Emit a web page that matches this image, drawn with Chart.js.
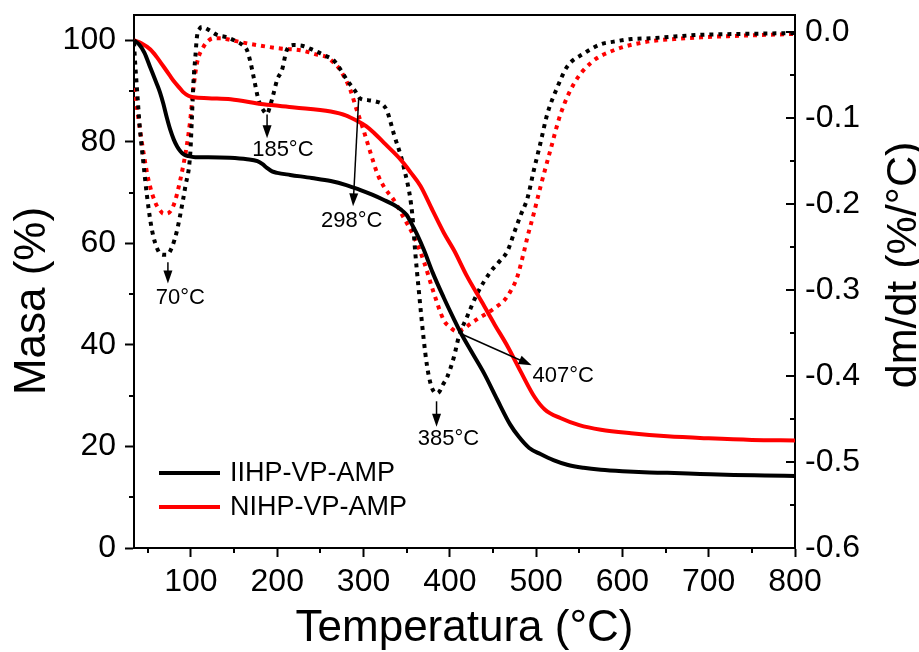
<!DOCTYPE html>
<html>
<head>
<meta charset="utf-8">
<script src="https://cdn.jsdelivr.net/npm/chart.js@4/dist/chart.umd.min.js"></script>
<style>
  html, body { margin: 0; padding: 0; background: #fff; }
  #wrap { width: 919px; height: 652px; position: relative; }
</style>
</head>
<body>
<div id="wrap"><canvas id="tgaChart"></canvas></div>
<script>
// ---- Data ----
// Mass loss curves, left axis (%)
const iihpMassT = [34, 40, 46, 53, 60, 64, 68, 72, 76, 80, 84, 88, 92, 97, 105, 120, 145, 165, 177, 183, 188, 194, 200, 215, 240, 262, 280, 295, 310, 323, 335, 343, 350, 355, 362, 370, 380, 393, 405, 412, 425, 440, 455, 470, 480, 492, 505, 520, 536, 555, 575, 600, 625, 652, 690, 729, 765, 800];
const iihpMass = [100, 99.2, 97.6, 94.6, 91.6, 89.8, 87.5, 84.8, 82.4, 80.5, 79.1, 78.1, 77.5, 77.2, 77.0, 77.0, 76.9, 76.6, 76.2, 75.6, 74.9, 74.2, 73.9, 73.5, 72.9, 72.3, 71.5, 70.6, 69.6, 68.6, 67.6, 66.7, 65.6, 64.1, 61.8, 58.7, 54.3, 49.3, 45.0, 42.6, 38.7, 34.3, 29.2, 24.3, 21.9, 19.7, 18.5, 17.3, 16.4, 15.8, 15.4, 15.1, 14.9, 14.8, 14.6, 14.4, 14.3, 14.2];

const nihpMassT = [34, 42, 53, 60, 68, 75, 80, 86, 91, 97, 103, 120, 146, 184, 220, 262, 280, 293, 303, 312, 325, 343, 355, 366, 380, 393, 405, 420, 437, 452, 467, 482, 498, 510, 528, 550, 575, 610, 652, 700, 750, 800];
const nihpMass = [100, 99.5, 98.2, 96.8, 94.9, 93.2, 92.0, 90.8, 89.8, 89.1, 88.8, 88.6, 88.4, 87.4, 86.8, 86.0, 85.2, 84.1, 83.1, 81.8, 79.6, 76.5, 73.9, 71.3, 66.5, 62.1, 58.6, 53.5, 48.5, 44.0, 39.7, 34.8, 29.8, 27.3, 25.6, 24.2, 23.3, 22.6, 22.0, 21.6, 21.3, 21.2];

// Derivative curves, right axis (%/°C)
const iihpDtgT = [34, 35.3, 37.3, 41, 45, 49, 54.8, 62.4, 68, 72, 78, 84, 89, 93.4, 99.2, 101, 103, 105, 107, 110, 113, 120, 130, 142, 153, 160, 165, 169, 172.6, 178.4, 184, 188, 192, 195.8, 200, 205.5, 211, 219, 230, 242, 255, 265.6, 273, 281, 290, 296, 305, 315.8, 322, 327, 335, 346.6, 356.4, 360, 364, 369.8, 373.7, 378, 381.5, 385, 388, 392, 397, 404.7, 410.5, 420, 431.8, 447, 458, 466.6, 475, 482, 490, 497, 505, 513, 524.6, 536, 555, 575, 590, 610, 633, 660, 691, 740, 800];
const iihpDtg = [-0.012, -0.035, -0.064, -0.114, -0.153, -0.19, -0.23, -0.255, -0.259, -0.259, -0.25, -0.23, -0.205, -0.18, -0.141, -0.102, -0.056, -0.03, -0.005, 0.004, 0.006, 0.003, -0.003, -0.006, -0.011, -0.015, -0.021, -0.035, -0.052, -0.079, -0.091, -0.095, -0.085, -0.071, -0.055, -0.044, -0.021, -0.015, -0.016, -0.021, -0.027, -0.033, -0.043, -0.056, -0.068, -0.077, -0.079, -0.081, -0.084, -0.091, -0.118, -0.157, -0.211, -0.257, -0.3, -0.358, -0.389, -0.41, -0.418, -0.42, -0.418, -0.41, -0.401, -0.378, -0.354, -0.331, -0.304, -0.279, -0.266, -0.255, -0.232, -0.213, -0.193, -0.162, -0.129, -0.095, -0.064, -0.040, -0.025, -0.014, -0.011, -0.008, -0.007, -0.005, -0.003, -0.002, -0.001];

const nihpDtgT = [34, 37, 41, 45, 50.8, 58.6, 64, 68, 72, 80, 87.6, 95, 99.2, 103, 107, 114.6, 120, 126, 135, 145.6, 160, 176.6, 203.6, 226.8, 246, 257.7, 265, 273, 284.6, 292, 300, 308, 315.8, 325, 335, 345, 358, 370, 381, 393, 400, 408, 416, 424, 433, 443, 453, 463, 470, 478, 486, 490, 497, 505, 516.6, 528.4, 543.8, 563, 590, 629, 660, 691, 740, 800];
const nihpDtg = [-0.065, -0.085, -0.114, -0.14, -0.172, -0.198, -0.207, -0.211, -0.211, -0.201, -0.172, -0.133, -0.102, -0.064, -0.036, -0.017, -0.01, -0.007, -0.007, -0.009, -0.012, -0.015, -0.019, -0.021, -0.026, -0.029, -0.035, -0.044, -0.067, -0.09, -0.114, -0.14, -0.164, -0.182, -0.195, -0.213, -0.237, -0.267, -0.302, -0.335, -0.343, -0.348, -0.345, -0.339, -0.333, -0.327, -0.32, -0.312, -0.302, -0.285, -0.255, -0.238, -0.212, -0.18, -0.137, -0.095, -0.06, -0.036, -0.021, -0.011, -0.008, -0.006, -0.004, -0.002];

// Axis ticks
const xTicks = [100, 200, 300, 400, 500, 600, 700, 800];
const xMinorTicks = [50, 150, 250, 350, 450, 550, 650, 750];
const massTicks = [0, 20, 40, 60, 80, 100];
const massMinorTicks = [10, 30, 50, 70, 90];
const dtgTicks = [-0.6, -0.5, -0.4, -0.3, -0.2, -0.1, 0.0];
const dtgMinorTicks = [-0.55, -0.45, -0.35, -0.25, -0.15, -0.05];

// Peak annotations: arrow from -> to, label at (temperature, mass %)
const peakLabels = ['70°C', '185°C', '298°C', '385°C', '407°C'];
const peakArrowFrom = [[73.3, 56.3], [188.2, 85.4], [294.4, 88.7], [384.6, 28.9], [411.6, 42.3]];
const peakArrowTo = [[73.3, 52.1], [188.2, 80.7], [287.9, 67.3], [384.6, 23.9], [494.8, 36.0]];
const peakTextAt = [[87.6, 49.3], [206.5, 78.5], [286.3, 64.4], [398.5, 21.5], [531.3, 33.8]];

const FONT = "'Liberation Sans', Arial, sans-serif";

const toPoints = (xs, ys) => xs.map((x, i) => ({ x: x, y: ys[i] }));

// fixed box sizes so the plot area sits where the figure has it
const fixBox = size => s => {
    if (s.isHorizontal()) s.height = size; else s.width = size;
    s.paddingTop = 0; s.paddingBottom = 0; s.paddingLeft = 0; s.paddingRight = 0;
};

// ---- Plugins ----
// minor ticks, inward right ticks and top frame line
const frameTicks = {
    id: 'frameTicks',
    afterDraw(chart) {
        const ctx = chart.ctx;
        const a = chart.chartArea;
        const sx = chart.scales.x, sy = chart.scales.y, sy2 = chart.scales.y2;
        ctx.save();
        ctx.strokeStyle = '#000';
        ctx.lineWidth = 2;
        ctx.beginPath();
        ctx.moveTo(a.left - 1, a.top);
        ctx.lineTo(a.right + 1, a.top);
        // minor x ticks (outward)
        xMinorTicks.forEach(v => {
            const px = Math.round(sx.getPixelForValue(v));
            ctx.moveTo(px, a.bottom);
            ctx.lineTo(px, a.bottom + 5);
        });
        // minor left ticks (outward)
        massMinorTicks.forEach(v => {
            const py = Math.round(sy.getPixelForValue(v));
            ctx.moveTo(a.left, py);
            ctx.lineTo(a.left - 5, py);
        });
        // right axis ticks point into the plot
        dtgTicks.forEach(v => {
            const py = Math.round(sy2.getPixelForValue(v));
            ctx.moveTo(a.right, py);
            ctx.lineTo(a.right - 9, py);
        });
        dtgMinorTicks.forEach(v => {
            const py = Math.round(sy2.getPixelForValue(v));
            ctx.moveTo(a.right, py);
            ctx.lineTo(a.right - 5, py);
        });
        ctx.stroke();
        ctx.restore();
    }
};

// arrows + temperature labels
const peakNotes = {
    id: 'peakNotes',
    afterDatasetsDraw(chart) {
        const ctx = chart.ctx;
        const sx = chart.scales.x, sy = chart.scales.y;
        ctx.save();
        ctx.strokeStyle = '#000';
        ctx.fillStyle = '#000';
        ctx.lineWidth = 1.5;
        peakLabels.forEach((txt, i) => {
            const x1 = sx.getPixelForValue(peakArrowFrom[i][0]);
            const y1 = sy.getPixelForValue(peakArrowFrom[i][1]);
            const x2 = sx.getPixelForValue(peakArrowTo[i][0]);
            const y2 = sy.getPixelForValue(peakArrowTo[i][1]);
            const ang = Math.atan2(y2 - y1, x2 - x1);
            const headLen = 13, headW = 4.5;
            ctx.beginPath();
            ctx.moveTo(x1, y1);
            ctx.lineTo(x2 - Math.cos(ang) * headLen * 0.8, y2 - Math.sin(ang) * headLen * 0.8);
            ctx.stroke();
            ctx.beginPath();
            ctx.moveTo(x2, y2);
            ctx.lineTo(x2 - Math.cos(ang) * headLen - Math.sin(ang) * headW, y2 - Math.sin(ang) * headLen + Math.cos(ang) * headW);
            ctx.lineTo(x2 - Math.cos(ang) * headLen + Math.sin(ang) * headW, y2 - Math.sin(ang) * headLen - Math.cos(ang) * headW);
            ctx.closePath();
            ctx.fill();

            ctx.font = '22px ' + FONT;
            ctx.textAlign = 'center';
            ctx.textBaseline = 'middle';
            ctx.fillText(txt, sx.getPixelForValue(peakTextAt[i][0]), sy.getPixelForValue(peakTextAt[i][1]));
        });
        ctx.restore();
    }
};

// axis titles + legend inside the plot
const titlesLegend = {
    id: 'titlesLegend',
    afterDraw(chart) {
        const ctx = chart.ctx;
        const a = chart.chartArea;
        ctx.save();
        ctx.fillStyle = '#000';
        ctx.font = '44px ' + FONT;
        ctx.textAlign = 'center';
        ctx.textBaseline = 'alphabetic';
        ctx.fillText('Temperatura (°C)', (a.left + a.right) / 2, 641);

        ctx.save();
        ctx.translate(45, 301);
        ctx.rotate(-Math.PI / 2);
        ctx.fillText('Masa (%)', 0, 0);
        ctx.restore();

        ctx.save();
        ctx.translate(916, 265);
        ctx.rotate(-Math.PI / 2);
        ctx.font = '43px ' + FONT;
        ctx.fillText('dm/dt (%/°C)', 0, 0);
        ctx.restore();

        // legend: only the solid (mass) curves
        ctx.font = '27px ' + FONT;
        ctx.textAlign = 'left';
        ctx.textBaseline = 'middle';
        const legendItems = chart.data.datasets.filter(ds => !ds.borderDash);
        legendItems.forEach((ds, i) => {
            const y = 473 + i * 34;
            ctx.strokeStyle = ds.borderColor;
            ctx.lineWidth = 4;
            ctx.beginPath();
            ctx.moveTo(159, y);
            ctx.lineTo(220, y);
            ctx.stroke();
            ctx.fillText(ds.label, 230, y + 1);
        });
        ctx.restore();
    }
};

// ---- Chart ----
const tickFont = { family: FONT, size: 32 };

new Chart(document.getElementById('tgaChart').getContext('2d'), {
    type: 'line',
    data: {
        datasets: [
            {
                label: 'IIHP-VP-AMP',
                data: toPoints(iihpMassT, iihpMass),
                borderColor: '#000000',
                borderWidth: 4,
                yAxisID: 'y'
            },
            {
                label: 'NIHP-VP-AMP',
                data: toPoints(nihpMassT, nihpMass),
                borderColor: '#ff0000',
                borderWidth: 4,
                yAxisID: 'y'
            },
            {
                label: 'IIHP-VP-AMP dm/dt',
                data: toPoints(iihpDtgT, iihpDtg),
                borderColor: '#000000',
                borderWidth: 4,
                borderDash: [4, 5],
                yAxisID: 'y2'
            },
            {
                label: 'NIHP-VP-AMP dm/dt',
                data: toPoints(nihpDtgT, nihpDtg),
                borderColor: '#ff0000',
                borderWidth: 4,
                borderDash: [4, 5],
                yAxisID: 'y2'
            }
        ]
    },
    options: {
        responsive: true,
        maintainAspectRatio: false,
        animation: false,
        layout: { padding: { top: 15, left: 0, right: 0, bottom: 0 } },
        elements: {
            point: { radius: 0 },
            line: { cubicInterpolationMode: 'monotone', fill: false }
        },
        plugins: {
            legend: { display: false },
            tooltip: { enabled: false }
        },
        scales: {
            x: {
                type: 'linear',
                min: 34,
                max: 800,
                afterBuildTicks: s => { s.ticks = xTicks.map(v => ({ value: v })); },
                afterFit: fixBox(104),
                grid: { drawOnChartArea: false, tickLength: 9, tickWidth: 2, tickColor: '#000' },
                border: { color: '#000', width: 2 },
                ticks: { color: '#000', font: tickFont, padding: 6, maxRotation: 0 }
            },
            y: {
                type: 'linear',
                position: 'left',
                min: 0,
                max: 105,
                afterBuildTicks: s => { s.ticks = massTicks.map(v => ({ value: v })); },
                afterFit: fixBox(134),
                grid: { drawOnChartArea: false, tickLength: 9, tickWidth: 2, tickColor: '#000' },
                border: { color: '#000', width: 2 },
                ticks: { color: '#000', font: tickFont, padding: 9 }
            },
            y2: {
                type: 'linear',
                position: 'right',
                min: -0.6,
                max: 0.02,
                afterBuildTicks: s => { s.ticks = dtgTicks.map(v => ({ value: v })); },
                afterFit: fixBox(124),
                grid: { drawOnChartArea: false, drawTicks: false },
                border: { color: '#000', width: 2 },
                ticks: { color: '#000', font: tickFont, padding: 10, callback: v => v.toFixed(1) }
            }
        }
    },
    plugins: [frameTicks, peakNotes, titlesLegend]
});
</script>
</body>
</html>
